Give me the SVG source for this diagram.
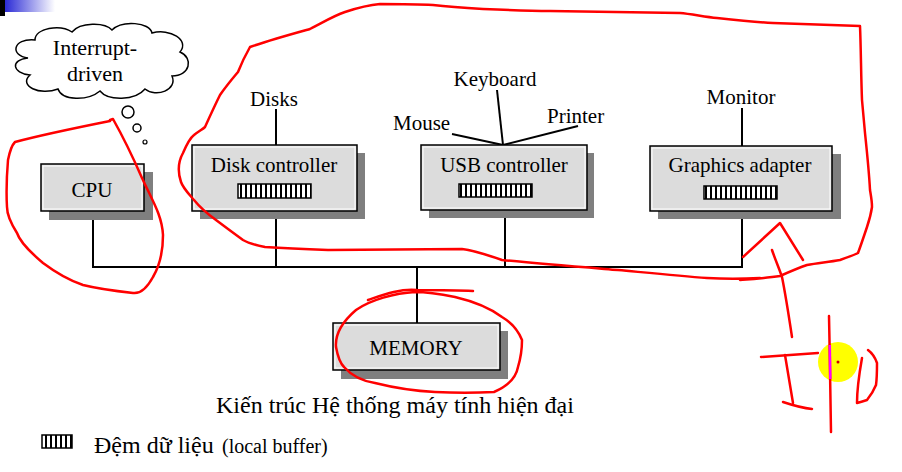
<svg xmlns="http://www.w3.org/2000/svg" width="902" height="472" viewBox="0 0 902 472" font-family="'Liberation Serif', 'Times New Roman', Times, 'DejaVu Serif', 'Noto Serif', 'FreeSerif', 'Nimbus Roman', 'Tinos', serif">
<style>
text{font-family:"Liberation Serif","Times New Roman",Times,"DejaVu Serif","Noto Serif","FreeSerif","Nimbus Roman","Tinos",serif;fill:#000}
.lbl{font-size:21px}
.box{fill:#dcdcdc;stroke:#000;stroke-width:1.5}
.inner{fill:none;stroke:#fff;stroke-width:1}
.shadow{fill:#7f7f7f}
.wire{stroke:#000;stroke-width:2;fill:none}
.ink{fill:none;stroke:#f00;stroke-width:2.5;stroke-linecap:round;stroke-linejoin:round}
.buf{fill:url(#stripes);stroke:#000;stroke-width:1.5}
</style>
<defs>
<linearGradient id="blueg" x1="0" y1="0" x2="1" y2="0">
<stop offset="0" stop-color="#2b2bd6"/>
<stop offset="1" stop-color="#ffffff"/>
</linearGradient>
<pattern id="stripes" x="0" y="0" width="5" height="10" patternUnits="userSpaceOnUse">
<rect x="0" y="0" width="5" height="10" fill="#fff"/>
<rect x="0" y="0" width="2" height="10" fill="#000"/>
</pattern>
</defs>
<rect width="902" height="472" fill="#fff"/>
<rect x="5" y="0" width="50" height="12" fill="url(#blueg)"/>
<rect x="0" y="0" width="5" height="16" fill="#000"/>

<g id="cloud">
<path d="M28,58 C10,56 12,38 35,40 C35,28 60,24 72,32 C80,22 105,22 112,30 C122,20 150,22 152,33 C170,28 190,40 180,52 C194,58 190,76 172,76 C178,90 156,98 145,89 C135,101 108,101 100,91 C88,101 62,101 58,89 C40,96 18,86 30,75 C12,73 10,60 28,58 Z" fill="#fff" stroke="#000" stroke-width="1.5"/>
<text x="95" y="55" font-size="22" text-anchor="middle">Interrupt-</text>
<text x="95" y="81" font-size="22" text-anchor="middle">driven</text>
<circle cx="128" cy="112" r="6" fill="#fff" stroke="#000" stroke-width="1.5"/>
<circle cx="137" cy="128" r="4" fill="#fff" stroke="#000" stroke-width="1.5"/>
<circle cx="145" cy="142" r="2" fill="#fff" stroke="#000" stroke-width="1.2"/>
</g>

<g id="connectors">
<line class="wire" x1="93" y1="211" x2="93" y2="267"/>
<line class="wire" x1="276" y1="211" x2="276" y2="267"/>
<line class="wire" x1="505" y1="210" x2="505" y2="267"/>
<line class="wire" x1="742" y1="211" x2="742" y2="267"/>
<line class="wire" x1="92" y1="267" x2="743" y2="267"/>
<line class="wire" x1="417" y1="267" x2="417" y2="323"/>
<line class="wire" x1="276" y1="109" x2="276" y2="145"/>
<line class="wire" x1="497" y1="90" x2="503" y2="145"/>
<line class="wire" x1="452" y1="134" x2="503" y2="145"/>
<line class="wire" x1="578" y1="126" x2="503" y2="145"/>
<line class="wire" x1="742" y1="108" x2="742" y2="146"/>
</g>

<g id="cpu">
<rect class="shadow" x="49" y="172" width="104" height="48"/>
<rect class="box" x="41" y="164" width="103" height="47"/>
<rect class="inner" x="43" y="166" width="99" height="43"/>
<text class="lbl" x="92" y="197" text-anchor="middle">CPU</text>
</g>

<g id="disk-controller">
<text class="lbl" x="274" y="106" text-anchor="middle">Disks</text>
<rect class="shadow" x="200" y="153" width="165" height="66"/>
<rect class="box" x="192" y="145" width="165" height="66"/>
<rect class="inner" x="194" y="147" width="161" height="62"/>
<text class="lbl" x="274" y="172" text-anchor="middle">Disk controller</text>
<rect class="buf" x="238" y="184" width="73" height="14"/>
</g>

<g id="usb-controller">
<text class="lbl" x="495" y="86" text-anchor="middle">Keyboard</text>
<text class="lbl" x="393" y="130">Mouse</text>
<text class="lbl" x="547" y="123">Printer</text>
<rect class="shadow" x="429" y="153" width="165" height="65"/>
<rect class="box" x="421" y="145" width="166" height="65"/>
<rect class="inner" x="423" y="147" width="162" height="61"/>
<text class="lbl" x="504" y="172" text-anchor="middle">USB controller</text>
<rect class="buf" x="459" y="184" width="73" height="13"/>
</g>

<g id="graphics-adapter">
<text class="lbl" x="741" y="104" text-anchor="middle">Monitor</text>
<rect class="shadow" x="658" y="154" width="183" height="65"/>
<rect class="box" x="650" y="146" width="182" height="65"/>
<rect class="inner" x="652" y="148" width="178" height="61"/>
<text class="lbl" x="740" y="172" text-anchor="middle">Graphics adapter</text>
<rect class="buf" x="704" y="186" width="73" height="13"/>
</g>

<g id="memory">
<rect class="shadow" x="341" y="331" width="167" height="48"/>
<rect class="box" x="333" y="323" width="167" height="47"/>
<rect class="inner" x="335" y="325" width="163" height="43"/>
<text class="lbl" x="416" y="355" text-anchor="middle">MEMORY</text>
</g>

<g id="caption">
<text x="216" y="413" font-size="24">Kiến trúc Hệ thống máy tính hiện đại</text>
</g>

<g id="legend">
<rect class="buf" x="42" y="435" width="30" height="13"/>
<text x="94" y="453" font-size="24">Đệm dữ liệu</text>
<text x="222" y="453" font-size="20">(local buffer)</text>
</g>

<g id="annotations">
<path class="ink" d="M110,120 L113,119 C122,135 132,155 142,178 C152,200 162,215 163,235 C163,250 160,265 153,277 C147,288 140,294 133,293 C115,291 95,288 83,285 C68,280 55,272 43,263 C30,252 20,242 17,233 C10,222 7,215 7,207 C6,190 7,172 8,160 C10,150 12,145 15,142 C45,134 80,127 110,121"/>
<path class="ink" d="M760,278 C740,279 725,279 707,278 C680,276 650,273 618,270 C580,267 540,264 502,260 C485,254 470,250 462,249 C420,249 370,250 328,250 C300,249 280,248 265,247 C255,245 248,243 243,240 C232,232 224,226 216,220 C205,212 198,205 194,200 C188,193 183,188 181,182 C178,173 178,162 183,153 C186,146 190,138 194,135 C199,131 203,129 205,127 C210,116 215,105 220,95 C227,85 233,78 238,72 C242,62 246,54 250,47 C270,40 292,34 310,29 C322,23 333,16 345,12 C357,8 368,5 380,4 C398,4 415,4 433,5 C450,7 466,8 483,9 C505,10 527,11 550,11 C593,12 637,12 680,13 C692,14 705,17 717,18 C736,20 755,22 773,23 C802,24 831,25 860,26 C861,50 861,75 862,100 C863,111 864,122 865,133 C867,152 869,171 870,190 C871,196 872,201 872,207 C871,214 869,221 867,227 C864,236 861,245 858,253 C852,256 846,258 840,260 C829,262 818,263 807,265 C798,268 789,272 780,276 C767,278 753,279 740,280"/>
<path class="ink" d="M743,257 L780,223 L803,260"/>
<path class="ink" d="M772,250 C775,259 779,268 782,277 C786,297 789,317 792,337"/>
<path class="ink" d="M761,357 L818,353"/>
<path class="ink" d="M785,355 L793,403"/>
<path class="ink" d="M783,402 C792,405 802,408 812,409"/>
<path class="ink" d="M473,291 C455,290 435,290 417,290 C400,288 380,296 368,300"/>
<path class="ink" d="M415,292 C395,293 370,300 356,310 C342,322 335,335 336,347 C338,358 340,363 344,367 C352,376 362,381 375,383 C395,388 415,391 435,392 C455,393 475,393 494,392 C508,386 516,378 518,367 C521,357 522,348 522,340 C518,330 512,323 502,317 C490,308 472,301 455,297 C440,294 425,292 415,292"/>
<circle cx="838" cy="362" r="20" fill="#ffff00"/>
<path class="ink" d="M829,316 C830,355 830,395 831,432"/>
<line x1="829.8" y1="345" x2="830.3" y2="379" stroke="#ff00ff" stroke-width="2.5"/>
<circle cx="838" cy="362" r="1.5" fill="#c00"/>
<path class="ink" d="M862,358 C859,375 857,390 857,403 C861,402 864,401 867,400 C871,395 874,390 876,385 C877,378 877,370 877,363 C875,357 872,353 868,350"/>
</g>
</svg>
